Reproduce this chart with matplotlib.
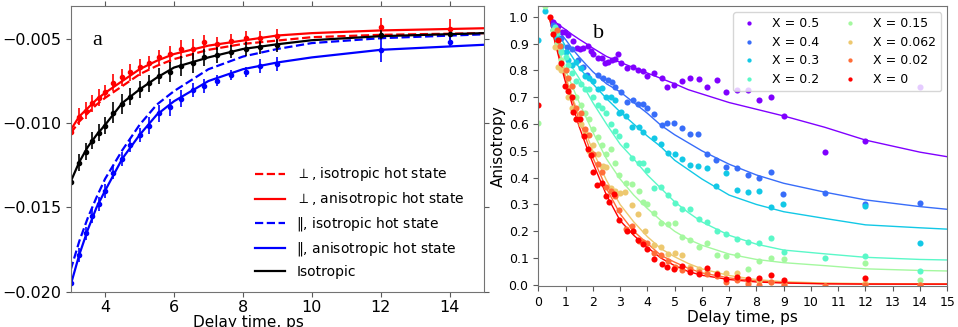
import numpy as np
import matplotlib
matplotlib.use("Agg")
import matplotlib.pyplot as plt

plt.rcParams["font.family"] = ["DejaVu Sans"]
plt.rcParams["axes.unicode_minus"] = True

# ---------- panel a : transient signal ----------
t_a = [3.0, 3.24, 3.44, 3.63, 3.83, 4.0, 4.24, 4.48, 4.72, 5.0, 5.26, 5.55,
       5.87, 6.2, 6.55, 6.88, 7.24, 7.65, 8.09, 8.5, 9.0, 12.0, 14.0]
perp_y = [-0.0105, -0.00961, -0.00927, -0.00882, -0.00848, -0.00813, -0.00759,
          -0.00728, -0.00698, -0.00668, -0.00641, -0.00609, -0.00591, -0.00559,
          -0.00559, -0.00518, -0.00528, -0.0051, -0.00492, -0.00492, -0.00482,
          -0.00427, -0.00443]
perp_err = [0.0004, 0.0005, 0.0005, 0.0005, 0.0005, 0.0004, 0.0005, 0.0005,
            0.0005, 0.0005, 0.0004, 0.0004, 0.0005, 0.0005, 0.0006, 0.0004,
            0.0004, 0.0004, 0.0004, 0.0004, 0.0004, 0.0005, 0.0006]
iso_y = [-0.01347, -0.01234, -0.01169, -0.01104, -0.01056, -0.01015, -0.00937,
         -0.00888, -0.00842, -0.00799, -0.00763, -0.0072, -0.00698, -0.0066,
         -0.00641, -0.00609, -0.00595, -0.00575, -0.00561, -0.00549, -0.00536,
         -0.00476, -0.00472]
iso_err = [0.0005, 0.0005, 0.0005, 0.0005, 0.0005, 0.0005, 0.0006, 0.0006,
           0.0005, 0.0005, 0.0005, 0.0005, 0.0006, 0.0006, 0.0006, 0.0005,
           0.0005, 0.0004, 0.0004, 0.0004, 0.0004, 0.0003, 0.0004]
par_y = [-0.0195, -0.01782, -0.01654, -0.01551, -0.0148, -0.01402, -0.01294,
         -0.01212, -0.01131, -0.0107, -0.01016, -0.00941, -0.00906, -0.00856,
         -0.00803, -0.00779, -0.00747, -0.00716, -0.00694, -0.0066, -0.00648,
         -0.00569, -0.00518]
par_err = [0.0004, 0.0004, 0.0004, 0.0004, 0.0004, 0.0004, 0.0004, 0.0004,
           0.0004, 0.0004, 0.0005, 0.0005, 0.0005, 0.0005, 0.0004, 0.0004,
           0.0003, 0.0003, 0.0003, 0.0004, 0.0004, 0.0007, 0.0003]

# fitted curves, read at these delay times
t_fit_a = [3.0, 3.25, 3.5, 3.75, 4.0, 4.5, 5.0, 5.5, 6.0, 7.0, 8.0, 9.0, 10.0, 12.0, 15.0]
perp_iso_fit = [-0.0106, -0.0099, -0.0094, -0.0089, -0.0085, -0.0078, -0.0071, -0.0066,
                -0.0062, -0.00565, -0.0053, -0.0051, -0.0049, -0.00476, -0.00466]
perp_aniso_fit = [-0.0104, -0.0096, -0.0091, -0.0086, -0.0082, -0.0075, -0.0068, -0.0063,
                  -0.0059, -0.0054, -0.0051, -0.0048, -0.00466, -0.0045, -0.00437]
par_iso_fit = [-0.0187, -0.0170, -0.0156, -0.0144, -0.0133, -0.0116, -0.0101, -0.0089,
               -0.0081, -0.0068, -0.00605, -0.0056, -0.00525, -0.00496, -0.00473]
par_aniso_fit = [-0.0196, -0.0178, -0.0163, -0.0150, -0.0140, -0.0121, -0.0107, -0.0095,
                 -0.0087, -0.0075, -0.0068, -0.0064, -0.0061, -0.00565, -0.00535]
iso_fit = [-0.01347, -0.0123, -0.0114, -0.0107, -0.0101, -0.0088, -0.0080, -0.0073,
           -0.0067, -0.0061, -0.0056, -0.00532, -0.00508, -0.00484, -0.00466]

# ---------- panel b : anisotropy ----------
labels_b = ["X = 0.5", "X = 0.4", "X = 0.3", "X = 0.2",
            "X = 0.15", "X = 0.062", "X = 0.02", "X = 0"]
t_b = [
    [0.55, 0.73, 0.86, 0.98, 1.10, 1.26, 1.41, 1.53, 1.65, 1.81, 1.92, 2.02, 2.20, 2.32,
     2.44, 2.57, 2.69, 2.81, 2.93, 3.02, 3.24, 3.46, 3.67, 3.85, 4.0, 4.25, 4.52, 4.73,
     4.99, 5.28, 5.56, 5.88, 6.2, 6.54, 6.88, 7.27, 7.68, 8.1, 8.53, 9.0, 10.5, 12.0, 14.0],
    [0.55, 0.7, 0.85, 1.06, 1.22, 1.44, 1.65, 1.77, 2.2, 2.38, 2.57, 2.69, 2.81, 3.03,
     3.24, 3.46, 3.67, 3.85, 4.0, 4.25, 4.52, 4.73, 4.99, 5.28, 5.56, 5.87, 6.2, 6.52,
     6.88, 7.27, 7.68, 8.1, 8.52, 8.98, 10.5, 12.0, 14.0],
    [0.0, 0.25, 0.55, 0.7, 0.85, 1.0, 1.1, 1.25, 1.4, 1.55, 1.7, 1.85, 2.0, 2.2, 2.35,
     2.5, 2.65, 2.8, 2.95, 3.05, 3.2, 3.45, 3.7, 3.85, 4.25, 4.5, 4.75, 5.0, 5.26, 5.56,
     5.87, 6.2, 6.52, 6.88, 7.27, 7.68, 8.1, 8.52, 8.98, 12.0, 14.0],
    [0.6, 0.7, 0.85, 1.0, 1.1, 1.25, 1.4, 1.55, 1.7, 1.85, 2.0, 2.2, 2.35, 2.5, 2.65,
     2.8, 2.95, 3.2, 3.45, 3.7, 3.85, 4.0, 4.25, 4.5, 4.75, 5.0, 5.28, 5.56, 5.88, 6.2,
     6.54, 6.88, 7.27, 7.68, 8.1, 8.53, 9.0, 10.5, 12.0, 14.0],
    [0.0, 0.25, 0.55, 0.7, 0.85, 1.0, 1.1, 1.25, 1.4, 1.55, 1.7, 1.85, 2.0, 2.2, 2.35,
     2.5, 2.65, 2.8, 2.95, 3.2, 3.45, 3.7, 3.85, 4.0, 4.25, 4.5, 4.75, 5.0, 5.28, 5.56,
     5.88, 6.2, 6.54, 6.88, 7.27, 7.68, 8.1, 8.53, 9.0, 12.0, 14.0],
    [0.61, 0.73, 0.85, 1.0, 1.1, 1.25, 1.4, 1.55, 1.7, 1.85, 2.0, 2.2, 2.38, 2.5, 2.65,
     2.8, 3.0, 3.18, 3.42, 3.65, 3.9, 4.26, 4.5, 4.77, 5.0, 5.28, 5.56, 5.88, 6.2, 6.54,
     6.88, 7.27, 7.68, 8.1, 8.53, 9.0, 10.5, 12.0, 14.0],
    [0.7, 0.8, 1.0, 1.1, 1.25, 1.4, 1.55, 1.7, 1.85, 2.0, 2.2, 2.35, 2.5, 2.65, 2.8,
     2.95, 3.2, 3.45, 3.7, 3.85, 4.0, 4.25, 4.5, 4.75, 5.0, 5.28, 5.56, 5.88, 6.2, 6.54,
     6.88, 7.27, 7.68, 8.1, 8.53, 9.0, 10.5, 12.0, 14.0],
    [0.0, 0.43, 0.55, 0.71, 0.83, 0.98, 1.10, 1.22, 1.26, 1.38, 1.53, 1.67, 1.81, 1.93,
     2.02, 2.16, 2.32, 2.47, 2.6, 2.79, 2.96, 3.24, 3.46, 3.67, 3.83, 4.0, 4.25, 4.52,
     4.73, 4.99, 5.28, 5.56, 5.88, 6.2, 6.54, 6.88, 7.27, 7.68, 8.1, 8.53, 9.0, 12.0],
]
y_b = [
    [0.981, 0.965, 0.944, 0.944, 0.932, 0.909, 0.884, 0.880, 0.882, 0.891, 0.873, 0.861,
     0.845, 0.845, 0.829, 0.832, 0.839, 0.843, 0.861, 0.826, 0.810, 0.814, 0.801, 0.798,
     0.780, 0.789, 0.770, 0.737, 0.744, 0.760, 0.770, 0.768, 0.737, 0.764, 0.718, 0.727,
     0.727, 0.689, 0.702, 0.630, 0.497, 0.538, 0.737],
    [0.97, 0.95, 0.92, 0.888, 0.878, 0.839, 0.814, 0.783, 0.783, 0.77, 0.764, 0.758,
     0.737, 0.72, 0.683, 0.689, 0.673, 0.673, 0.658, 0.636, 0.596, 0.602, 0.602, 0.586,
     0.562, 0.562, 0.487, 0.466, 0.441, 0.437, 0.409, 0.40, 0.42, 0.338, 0.342, 0.30, 0.307],
    [0.913, 1.02, 0.95, 0.92, 0.89, 0.87, 0.84, 0.82, 0.83, 0.81, 0.78, 0.77, 0.76, 0.73,
     0.735, 0.70, 0.70, 0.69, 0.64, 0.645, 0.63, 0.59, 0.59, 0.572, 0.547, 0.525, 0.492,
     0.488, 0.47, 0.447, 0.444, 0.435, 0.369, 0.419, 0.354, 0.347, 0.352, 0.292, 0.302,
     0.296, 0.155],
    [0.96, 0.94, 0.87, 0.85, 0.82, 0.79, 0.76, 0.75, 0.73, 0.73, 0.70, 0.67, 0.66, 0.64,
     0.60, 0.575, 0.555, 0.52, 0.475, 0.455, 0.455, 0.43, 0.36, 0.365, 0.335, 0.304,
     0.282, 0.283, 0.246, 0.233, 0.201, 0.189, 0.171, 0.161, 0.155, 0.174, 0.124, 0.099,
     0.106, 0.053],
    [0.604, 1.04, 0.95, 0.9, 0.84, 0.80, 0.77, 0.74, 0.70, 0.67, 0.64, 0.62, 0.58, 0.55,
     0.52, 0.49, 0.505, 0.455, 0.41, 0.38, 0.375, 0.35, 0.31, 0.30, 0.27, 0.23, 0.227,
     0.232, 0.18, 0.167, 0.143, 0.157, 0.11, 0.107, 0.11, 0.06, 0.088, 0.10, 0.095,
     0.083, 0.02],
    [0.888, 0.814, 0.80, 0.74, 0.70, 0.66, 0.62, 0.60, 0.57, 0.50, 0.52, 0.49, 0.445,
     0.44, 0.36, 0.35, 0.342, 0.348, 0.298, 0.265, 0.20, 0.149, 0.143, 0.114, 0.118,
     0.113, 0.065, 0.06, 0.05, 0.043, 0.043, 0.045, 0.01, 0.015, 0.01, 0.005, -0.003,
     0.008, 0.0],
    [0.95, 0.89, 0.80, 0.77, 0.74, 0.66, 0.64, 0.58, 0.56, 0.49, 0.45, 0.42, 0.365, 0.35,
     0.33, 0.28, 0.21, 0.22, 0.165, 0.16, 0.155, 0.12, 0.11, 0.09, 0.065, 0.055, 0.058,
     0.05, 0.04, 0.035, 0.01, 0.02, 0.005, 0.0, 0.01, 0.0, -0.005, 0.0, -0.002],
    [0.671, 1.0, 0.934, 0.913, 0.829, 0.742, 0.723, 0.702, 0.646, 0.619, 0.619, 0.555,
     0.507, 0.484, 0.42, 0.373, 0.381, 0.333, 0.308, 0.338, 0.242, 0.202, 0.202, 0.168,
     0.152, 0.134, 0.097, 0.077, 0.068, 0.058, 0.072, 0.05, 0.041, 0.062, 0.041, 0.021,
     0.031, 0.021, 0.025, 0.037, 0.019, 0.025],
]
t_fit_b = [0.4, 0.6, 0.8, 1.0, 1.25, 1.5, 1.75, 2.0, 2.5, 3.0, 3.5, 4.0, 4.5, 5.0,
           5.5, 6.0, 7.0, 8.0, 9.0, 10.5, 12.0, 14.0, 15.0]
fit_b = [
    [1.0, 0.982, 0.966, 0.952, 0.933, 0.916, 0.9, 0.883, 0.852, 0.83, 0.81, 0.79, 0.77,
     0.75, 0.728, 0.712, 0.68, 0.655, 0.63, 0.588, 0.54, 0.495, 0.478],
    [1.0, 0.97, 0.94, 0.915, 0.88, 0.85, 0.822, 0.795, 0.75, 0.72, 0.68, 0.64, 0.595,
     0.56, 0.53, 0.5, 0.45, 0.41, 0.379, 0.346, 0.317, 0.292, 0.282],
    [1.0, 0.96, 0.925, 0.89, 0.85, 0.81, 0.78, 0.75, 0.695, 0.645, 0.6, 0.555, 0.515,
     0.465, 0.43, 0.395, 0.335, 0.3, 0.273, 0.248, 0.224, 0.213, 0.208],
    [1.0, 0.95, 0.9, 0.86, 0.81, 0.77, 0.725, 0.68, 0.6, 0.525, 0.47, 0.41, 0.36, 0.31,
     0.27, 0.235, 0.185, 0.152, 0.13, 0.116, 0.103, 0.095, 0.093],
    [1.0, 0.93, 0.865, 0.8, 0.74, 0.68, 0.625, 0.57, 0.47, 0.395, 0.335, 0.285, 0.24,
     0.2, 0.17, 0.148, 0.115, 0.095, 0.083, 0.072, 0.06, 0.054, 0.052],
    [1.0, 0.92, 0.85, 0.78, 0.7, 0.63, 0.565, 0.5, 0.39, 0.3, 0.235, 0.18, 0.135, 0.105,
     0.08, 0.06, 0.035, 0.02, 0.012, 0.007, 0.005, 0.004, 0.004],
    [1.0, 0.915, 0.84, 0.77, 0.69, 0.615, 0.545, 0.475, 0.36, 0.265, 0.2, 0.155, 0.11,
     0.085, 0.062, 0.045, 0.026, 0.015, 0.009, 0.005, 0.004, 0.003, 0.003],
    [1.0, 0.91, 0.83, 0.755, 0.67, 0.59, 0.52, 0.455, 0.335, 0.24, 0.185, 0.14, 0.1,
     0.072, 0.05, 0.036, 0.02, 0.011, 0.007, 0.004, 0.003, 0.003, 0.003],
]

W, H = 958, 327
fig = plt.figure(figsize=(W / 100, H / 100), dpi=100)

# ---- a ----
ax = fig.add_axes([70.7 / W, 1 - 291.7 / H, 413.3 / W, 285.7 / H])
ax.plot(t_fit_a, perp_iso_fit, "--", color="red", lw=1.6, label=r"$\perp$, isotropic hot state")
ax.plot(t_fit_a, perp_aniso_fit, "-", color="red", lw=1.6, label=r"$\perp$, anisotropic hot state")
ax.plot(t_fit_a, par_iso_fit, "--", color="blue", lw=1.6, label=r"$\Vert$, isotropic hot state")
ax.plot(t_fit_a, par_aniso_fit, "-", color="blue", lw=1.6, label=r"$\Vert$, anisotropic hot state")
ax.plot(t_fit_a, iso_fit, "-", color="black", lw=1.6, label="Isotropic")
for y, e, c in [(perp_y, perp_err, "red"), (iso_y, iso_err, "black"), (par_y, par_err, "blue")]:
    ax.errorbar(t_a, y, yerr=e, fmt="o", color=c, ms=3, elinewidth=1.2, capsize=0)
ax.set_xlim(3, 15)
ax.set_ylim(-0.020, -0.00305)
ax.set_xticks([4, 6, 8, 10, 12, 14])
ax.set_yticks([-0.020, -0.015, -0.010, -0.005])
ax.tick_params(labelsize=11.5, top=True, right=True, color="0.35")
ax.tick_params(axis="x", pad=2.5)
for s in ax.spines.values():
    s.set_color("0.45")
ax.text(0.065, 0.88, "a", transform=ax.transAxes, fontsize=16,
        family="Liberation Serif", ha="center", va="center")
ax.legend(loc="lower left", bbox_to_anchor=(0.415, 0.0), frameon=False,
          fontsize=10, handlelength=2.2, labelspacing=0.5, handletextpad=0.8)
# label sits low, partly cut at the bottom edge as in the source figure
fig.text(248 / W, 1 - 315 / H, "Delay time, ps", fontsize=11, ha="center", va="top")

# ---- b ----
bx = fig.add_axes([538.3 / W, 1 - 286 / H, 409 / W, 280 / H])
colors = plt.cm.rainbow(np.linspace(0, 1, 8))
for i in range(8):
    bx.plot(t_fit_b, fit_b[i], "-", color=colors[i], lw=1.0)
for i in range(8):
    bx.plot(t_b[i], y_b[i], "o", color=colors[i], ms=4.4, mew=0, label=labels_b[i])
bx.set_xlim(0, 15)
bx.set_ylim(-0.004, 1.04)
bx.set_xticks(range(16))
bx.set_yticks(np.arange(0, 1.01, 0.1))
bx.tick_params(labelsize=9, color="0.35")
for s in bx.spines.values():
    s.set_color("0.45")
bx.set_xlabel("Delay time, ps", fontsize=11, labelpad=1)
bx.set_ylabel("Anisotropy", fontsize=11, labelpad=2)
bx.text(0.147, 0.9, "b", transform=bx.transAxes, fontsize=16,
        family="Liberation Serif", ha="center", va="center")
bx.legend(loc="upper right", ncol=2, fontsize=9, markerscale=0.7,
          labelspacing=0.45, columnspacing=1.6, handlelength=1.7, handletextpad=1.0)

fig.savefig("out.png", dpi=100)
